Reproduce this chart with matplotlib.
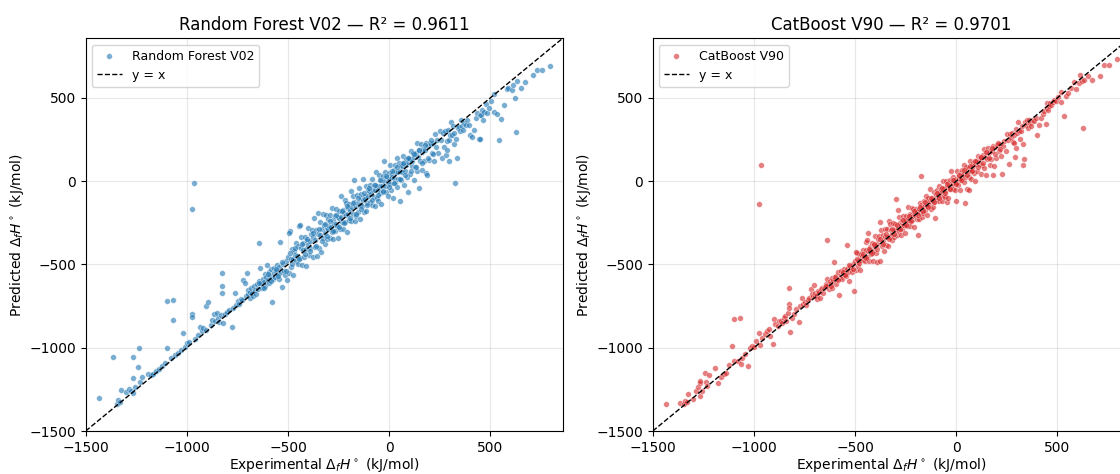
import matplotlib
matplotlib.use("Agg")
import matplotlib.pyplot as plt
import numpy as np

exp_vals = [
    -1433, -1363, -1345, -1339, -1331, -1327, -1300, -1286, -1274, -1264,
    -1264, -1264, -1255, -1243, -1236, -1231, -1223, -1190, -1178, -1165,
    -1150, -1140, -1125, -1110, -1099, -1097, -1080, -1069, -1066, -1060,
    -1045, -1030, -1020, -1010, -1000, -990, -975, -972, -967, -975,
    -960, -945, -934, -925, -918, -905,
    -903, -895, -882, -875, -868, -860, -852, -845, -840, -832,
    -827, -827, -827, -820, -812, -803, -792, -777, -772, -761,
    -756, -748, -740, -733, -727, -720, -712, -708, -703, -700,
    -696, -690, -686, -681, -676, -671, -667, -662, -657, -652,
    -648, -643, -641, -637, -633, -628, -624, -620, -616, -612,
    -608, -604, -600, -596, -592, -588, -584, -579, -575, -571,
    -567, -563, -559, -555, -551, -546, -542, -538, -534, -530,
    -526, -521, -516, -510, -505,
    -498, -494, -490, -487, -483, -480, -476, -473, -469, -466,
    -462, -459, -455, -452, -448, -445, -441, -438, -434, -431,
    -427, -424, -420, -417, -413, -410, -406, -403, -399, -396,
    -392, -389, -385, -382, -378, -375, -371, -368, -364, -361,
    -357, -354, -350, -347, -343, -340, -336, -333, -329, -326,
    -322, -319, -315, -312, -308, -305, -302, -300, -497, -439,
    -297, -294, -290, -288, -284, -281, -279, -275, -272, -270,
    -266, -263, -261, -257, -254, -251, -248, -246, -242, -239,
    -236, -233, -229, -227, -224, -220, -218, -215, -212, -208,
    -205, -203, -199, -196, -193, -190, -186, -183, -181, -177,
    -175, -172, -168, -165, -162, -159, -156, -153, -150, -146,
    -143, -141, -137, -134, -131, -128, -124, -121, -118, -115,
    -112, -108, -105, -102,
    -99, -95, -93, -89, -86, -84, -80, -77, -75, -71,
    -68, -66, -62, -59, -57, -53, -50, -47, -45, -41,
    -38, -36, -32, -29, -27, -23, -20, -18, -14, -11,
    -8, -5, -3, 1, 4, 6, 10, 13, 15, 19,
    22, 24, 28, 31, 33, 37, 40, 43, 45, 49,
    52, 55, 57, 61, 64, 66, 70, 73, 76, 79,
    82, 85, 88, 91, 94, 97,
    101, 104, 107, 111, 114, 118, 122, 125, 128, 132,
    136, 139, 143, 147, 150, 154, 158, 161, 165, 169,
    172, 176, 180, 184, 188, 192, 196, 200, 205, 210,
    215, 220, 226, 232, 238, 244, 250, 256, 262, 268,
    271, 276, 279, 284, 287, 290, 295, 298, 303, 306,
    311, 315, 320, 323, 328, 331, 337, 341, 345, 349,
    353, 358, 366, 372, 378, 385, 393, 402, 411, 419,
    428, 436,
    444, 448, 448, 455, 460, 463, 468, 477, 485, 493,
    505, 518, 518, 535, 543, 551, 567, 583, 590, 605,
    613, 624, 627, 630, 650, 670, 713, 729, 757, 795,
]

rf_pred = [
    -1304, -1058, -1335, -1316, -1328, -1254, -1268, -1250, -1260, -1274,
    -1182, -1058, -1235, -1116, -1002, -1208, -1178, -1158, -1166, -1160,
    -1140, -1125, -1108, -1092, -1004, -718, -1062, -714, -834, -1044,
    -1032, -1012, -914, -998, -972, -968, -796, -815, -11, -164,
    -948, -926, -874, -902, -884, -894,
    -752, -726, -862, -832, -800, -838, -792, -822, -848, -806,
    -554, -628, -674, -852, -798, -788, -772, -878, -762, -670,
    -742, -722, -736, -705, -714, -594, -614, -692, -554, -680,
    -654, -668, -700, -640, -672, -690, -628, -655, -676, -620,
    -645, -598, -374, -524, -612, -640, -585, -606, -560, -630,
    -578, -504, -596, -548, -612, -570, -530, -724, -590, -552,
    -520, -575, -540, -505, -560, -590, -515, -364, -548, -634,
    -500, -538, -565, -482, -594,
    -458, -554, -298, -467, -513, -410, -466, -563, -419, -441,
    -477, -374, -450, -497, -388, -270, -461, -403, -334, -501,
    -412, -369, -455, -337, -408, -510, -361, -383, -279, -446,
    -362, -399, -320, -293, -458, -335, -221, -393, -354, -291,
    -451, -319, -192, -402, -323, -245, -423, -288, -199, -341,
    -262, -314, -375, -202, -283, -345, -227, -290, -314, -264,
    -267, -344, -205, -278, -304, -161, -234, -350, -257, -210,
    -301, -258, -166, -267, -214, -341, -223, -176, -287, -89,
    -216, -248, -174, -287, -189, -115, -243, -205, -132, -308,
    -160, -198, -134, -236, -173, -60, -241, -153, -91, -197,
    6, -122, -238, -150, -210, -84, -131, -183, -40, -141,
    -228, -101, -77, -149, -111, 12, -184, -86, -108, -180,
    -27, -133, -55, -87,
    -59, -125, -23, -79, -141, 11, -55, -92, -20, -151,
    -53, 54, -102, -29, -52, -118, 35, -27, -70, 9,
    -138, -26, 33, -64, 120, 2, -30, 57, -64, 24,
    -3, -90, 52, 16, -16, 96, -50, 43, 25, -101,
    67, 19, 98, -9, 53, 137, -35, 58, 15, 109,
    -120, 60, 97, 6, 89, 56, 150, -22, 111, 59,
    132, 95, 23, 116, -66, 137,
    131, 44, 182, 91, 124, 168, 6, 145, 83, 167,
    231, 59, 148, -42, 190, 124, 223, 176, 70, 194,
    122, 186, 50, 229, 36, 212, 126, 230, 226, 170,
    230, 120, 281, 207, 248, 169, 302, 246, 142, 288,
    205, 300, 156, 240, 186, 310, 120, 250, 276, 356,
    280, 330, 226, 290, -10, 256, 140, 320, 325, 300,
    366, 330, 306, 350, 336, 370, 340, 276, 266, 306,
    380, 410,
    256, 254, 396, 400, 426, 370, 416, 462, 410, 440,
    480, 416, 526, 406, 246, 376, 456, 553, 560, 550,
    580, 500, 296, 600, 560, 594, 640, 666, 666, 690,
]

cb_pred = [
    -1336, -1334, -1340, -1320, -1326, -1278, -1305, -1262, -1236, -1290,
    -1210, -1200, -1262, -1150, -1204, -1232, -1164, -1124, -1214, -1175,
    -1158, -1150, -1106, -990, -1080, -830, -1080, -820, -1100, -1060,
    -1040, -1110, -1000, -992, -994, -960, -914, -985, 97, -138,
    -942, -920, -900, -890, -930, -980,
    -830, -860, -870, -838, -840, -852, -822, -810, -838, -790,
    -644, -740, -762, -904, -820, -795, -770, -844, -748, -700,
    -735, -728, -742, -715, -700, -650, -680, -688, -626, -690,
    -672, -682, -705, -660, -668, -700, -650, -640, -670, -640,
    -634, -620, -354, -590, -618, -650, -600, -612, -584, -640,
    -596, -484, -590, -570, -620, -586, -548, -684, -580, -566,
    -540, -585, -552, -530, -556, -570, -525, -384, -545, -600,
    -512, -528, -548, -495, -658,
    -478, -534, -430, -477, -508, -440, -471, -533, -439, -451,
    -472, -414, -455, -482, -413, -365, -456, -418, -309, -481,
    -417, -394, -440, -372, -418, -480, -381, -388, -329, -431,
    -377, -484, -345, -332, -478, -248, -296, -388, -359, -321,
    -417, -334, -290, -382, -333, -285, -391, -240, -259, -336,
    -292, -319, -355, -252, -293, -335, -257, -295, -427, -354,
    -109, -324, -175, -283, -299, -216, -254, -325, -262, -235,
    -286, -263, -206, -262, -229, -311, -233, -206, -272, -154,
    -226, -243, -199, -272, -204, -160, -233, -210, -167, -278,
    -180, -203, -164, -226, -183, -326, -226, -168, -131, -192,
    30, -142, -218, -155, -192, -119, -141, -173, -90, -146,
    -203, -116, -102, -144, -121, -48, -169, -101, -113, -155,
    -67, -123, -224, -92,
    -74, -115, -53, -84, -121, -29, -65, -87, -45, -121,
    -58, 4, -87, -39, -57, -93, 0, -37, -123, -11,
    -98, -31, 8, -49, 63, -8, -25, 27, -44, 9,
    -8, -55, -120, 11, -11, 61, -25, 33, 20, -51,
    47, 19, 68, 6, 43, 97, -5, -131, 25, 84,
    -48, 55, 82, 26, -54, 61, 120, 13, 96, 69,
    112, 90, 48, 106, -1, 122,
    121, 64, 152, 101, 119, 148, 42, 140, 98, 157,
    196, 79, 143, 37, 175, 134, 198, 171, 95, 184,
    132, 181, 35, 214, 93, 207, 141, 220, 220, 180,
    225, 150, 44, 212, 243, 184, 285, 246, 106, 283,
    260, 290, 235, 275, 230, 146, 315, 202, 290, 356,
    300, 256, 300, 330, 96, 225, 136, 355, 340, 366,
    320, 365, 350, 330, 370, 360, 380, 276, 340, 380,
    405, 420,
    346, 469, 440, 430, 450, 470, 455, 476, 490, 480,
    506, 536, 476, 390, 510, 530, 560, 596, 556, 590,
    636, 600, 319, 610, 630, 606, 631, 696, 696, 736,
]

# Additional points in the dense core of the cloud
core_exp = [
    -645, -618, -598, -582, -561, -548, -529, -512, -492, -478,
    -463, -447, -432, -418, -404, -391, -377, -363, -349, -334,
    -318, -306, -292, -277, -262, -249, -235, -221, -207, -191,
    -179, -166, -152, -139, -125, -111, -97, -83, -70, -56,
    -43, -30, -16, -2, 12, 26, 39, 53, 67, 80,
    94, 108, 121, 135, 149, 163, 177, 191, 205, 219,
]
core_rf = [
    -612, -640, -560, -600, -530, -570, -488, -540, -430, -500,
    -400, -470, -380, -440, -350, -420, -310, -390, -290, -360,
    -260, -330, -240, -300, -200, -275, -180, -250, -150, -220,
    -130, -195, -100, -165, -70, -140, -40, -110, -20, -85,
    10, -60, 30, -35, 60, -10, 85, 15, 110, 40,
    140, 60, 165, 85, 190, 110, 215, 140, 250, 165,
]
core_cb = [
    -628, -632, -578, -596, -545, -562, -505, -525, -465, -492,
    -435, -462, -405, -430, -378, -405, -345, -378, -318, -350,
    -290, -320, -265, -290, -232, -262, -208, -238, -180, -205,
    -152, -180, -125, -152, -98, -125, -70, -98, -42, -70,
    -15, -45, 10, -18, 38, 10, 65, 35, 92, 62,
    120, 88, 148, 112, 175, 138, 200, 165, 228, 192,
]

models = ["Random Forest V02", "CatBoost V90"]
r2_scores = [0.9611, 0.9701]
colors = ["#1f77b4", "#d62728"]
lims = (-1500, 858)

x_all = exp_vals + core_exp
preds = [rf_pred + core_rf, cb_pred + core_cb]

fig = plt.figure(figsize=(11.2, 4.74), dpi=100)
positions = [[0.0765, 0.0907, 0.4259, 0.8285], [0.5828, 0.0907, 0.4259, 0.8285]]

for pos, name, r2, col, pred in zip(positions, models, r2_scores, colors, preds):
    ax = fig.add_axes(pos)
    ax.scatter(x_all, pred, s=17, color=col, alpha=0.6, edgecolor="white",
               linewidth=0.4, label=name, zorder=2)
    ax.plot(lims, lims, "k--", lw=1, label="y = x", zorder=3)
    ax.set_xlim(lims)
    ax.set_ylim(lims)
    ax.set_xticks([-1500, -1000, -500, 0, 500])
    ax.set_yticks([-1500, -1000, -500, 0, 500])
    ax.grid(True, alpha=0.3, zorder=0)
    ax.set_axisbelow(True)
    ax.tick_params(labelsize=10)
    ax.set_xlabel(r"Experimental $\Delta_f H^\circ$ (kJ/mol)", fontsize=10, labelpad=1)
    ax.set_ylabel(r"Predicted $\Delta_f H^\circ$ (kJ/mol)", fontsize=10, labelpad=2)
    ax.set_title(f"{name} \u2014 R\u00b2 = {r2:.4f}", fontsize=12)
    ax.legend(loc="upper left", fontsize=9)

fig.savefig("out.png", dpi=100)
